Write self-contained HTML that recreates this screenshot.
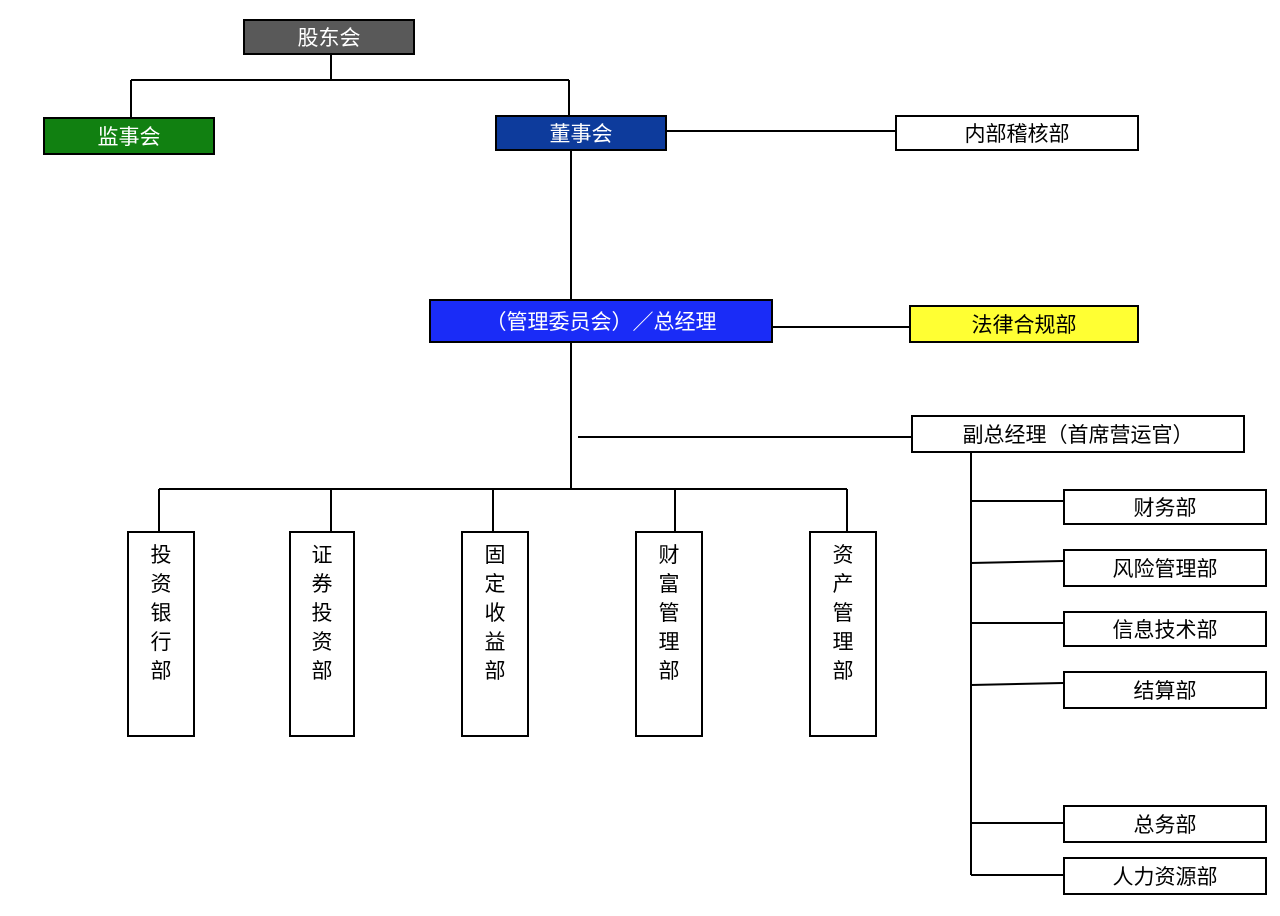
<!DOCTYPE html>
<html><head><meta charset="utf-8">
<style>
html,body{margin:0;padding:0;background:#fff;}
body{width:1280px;height:916px;position:relative;overflow:hidden;font-family:"Liberation Sans","Noto Sans CJK SC",sans-serif;}
.b{position:absolute;box-sizing:border-box;border:2px solid #000;display:flex;align-items:center;justify-content:center;font-size:21px;color:#000;background:#fff;}
.w{color:#fff;}
.v{flex-direction:column;justify-content:flex-start;padding-top:8px;line-height:29px;}
svg{position:absolute;left:0;top:0;}
</style></head><body>
<svg width="1280" height="916">
<g stroke="#000" stroke-width="2" fill="none">
<line x1="331" y1="55" x2="331" y2="80"/>
<line x1="131" y1="80" x2="569" y2="80"/>
<line x1="131" y1="80" x2="131" y2="117"/>
<line x1="569" y1="80" x2="569" y2="115"/>
<line x1="667" y1="131" x2="895" y2="131"/>
<line x1="571" y1="151" x2="571" y2="299"/>
<line x1="773" y1="327" x2="909" y2="327"/>
<line x1="571" y1="343" x2="571" y2="489"/>
<line x1="578" y1="437" x2="911" y2="437"/>
<line x1="159" y1="489" x2="847" y2="489"/>
<line x1="159" y1="489" x2="159" y2="531"/>
<line x1="331" y1="489" x2="331" y2="531"/>
<line x1="493" y1="489" x2="493" y2="531"/>
<line x1="675" y1="489" x2="675" y2="531"/>
<line x1="847" y1="489" x2="847" y2="531"/>
<line x1="971" y1="453" x2="971" y2="875"/>
<line x1="971" y1="501" x2="1063" y2="501"/>
<line x1="971" y1="563" x2="1063" y2="561"/>
<line x1="971" y1="623" x2="1063" y2="623"/>
<line x1="971" y1="685" x2="1063" y2="683"/>
<line x1="971" y1="823" x2="1063" y2="823"/>
<line x1="971" y1="875" x2="1063" y2="875"/>
</g></svg>
<div class="b w" style="left:243px;top:19px;width:172px;height:36px;background:#595959;">股东会</div>
<div class="b w" style="left:43px;top:117px;width:172px;height:38px;background:#118011;">监事会</div>
<div class="b w" style="left:495px;top:115px;width:172px;height:36px;background:#0d3b9c;">董事会</div>
<div class="b" style="left:895px;top:115px;width:244px;height:36px;">内部稽核部</div>
<div class="b w" style="left:429px;top:299px;width:344px;height:44px;background:#1a2cf7;">（管理委员会）／总经理</div>
<div class="b" style="left:909px;top:305px;width:230px;height:38px;background:#ffff33;">法律合规部</div>
<div class="b" style="left:911px;top:415px;width:334px;height:38px;">副总经理（首席营运官）</div>
<div class="b v" style="left:127px;top:531px;width:68px;height:206px;">投<br>资<br>银<br>行<br>部</div>
<div class="b v" style="left:289px;top:531px;width:66px;height:206px;">证<br>券<br>投<br>资<br>部</div>
<div class="b v" style="left:461px;top:531px;width:68px;height:206px;">固<br>定<br>收<br>益<br>部</div>
<div class="b v" style="left:635px;top:531px;width:68px;height:206px;">财<br>富<br>管<br>理<br>部</div>
<div class="b v" style="left:809px;top:531px;width:68px;height:206px;">资<br>产<br>管<br>理<br>部</div>
<div class="b" style="left:1063px;top:489px;width:204px;height:36px;">财务部</div>
<div class="b" style="left:1063px;top:549px;width:204px;height:38px;">风险管理部</div>
<div class="b" style="left:1063px;top:611px;width:204px;height:36px;">信息技术部</div>
<div class="b" style="left:1063px;top:671px;width:204px;height:38px;">结算部</div>
<div class="b" style="left:1063px;top:805px;width:204px;height:38px;">总务部</div>
<div class="b" style="left:1063px;top:857px;width:204px;height:38px;">人力资源部</div>
</body></html>
